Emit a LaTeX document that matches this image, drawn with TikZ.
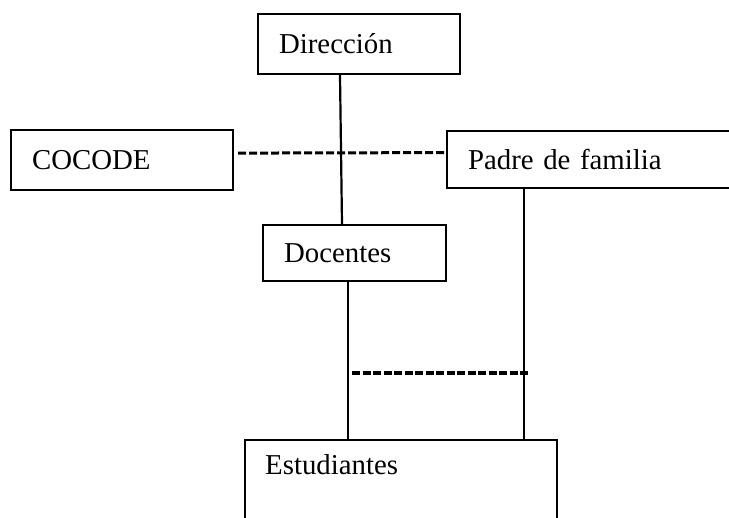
\documentclass[tikz,border=0pt]{standalone}
\usepackage{fontspec}
\setmainfont{Liberation Serif}
\begin{document}
\begin{tikzpicture}[x=1pt,y=-1pt,
  box/.style={draw=black, line width=2.2pt, fill=white, anchor=north west,
    inner xsep=21pt, inner ysep=0pt, align=left,
    font=\fontsize{28.8}{34}\selectfont, text height=19.5pt, text depth=0pt},
  conn/.style={draw=black, line width=2.2pt},
  dashone/.style={draw=black, line width=3pt, dash pattern=on 8pt off 3pt},
  dashtwo/.style={draw=black, line width=3.8pt, dash pattern=on 8pt off 2.5pt},
  lbl/.style={font=\fontsize{28.8}{34}\selectfont, inner sep=0pt, anchor=base west}]
\clip (0,0) rectangle (729,518);
\fill[white] (0,0) rectangle (729,518);
\node[box, minimum width=202pt, minimum height=60pt, text width=160pt] (dir) at (257,13) {Dirección};
\node[box, minimum width=222pt, minimum height=60pt, text width=180pt] (coc) at (10,129) {COCODE};
\node[box, minimum width=320pt, minimum height=57pt, text width=278pt] (pad) at (446,130) {Padre de familia};
\node[box, minimum width=183pt, minimum height=56pt, text width=141pt] (doc) at (262,224) {Docentes};
\node[box, minimum width=312pt, minimum height=140pt, text width=270pt, text height=0pt] (est) at (244,439) {};
\node[lbl] (estl) at ([shift={(21pt,-36pt)}]est.north west) {Estudiantes};
\draw[conn] ([xshift=83pt]dir.south west) -- ([xshift=80pt]doc.north west);
\draw[dashone] ([shift={(4pt,7pt)}]coc.east) -- ([yshift=7pt]pad.west);
\draw[conn] ([xshift=86pt]doc.south west) -- ([xshift=104pt]est.north west);
\draw[conn] ([xshift=78pt]pad.south west) -- ([xshift=280pt]est.north west);
\coordinate (m1) at (352,373);
\coordinate (m2) at (530,373);
\draw[dashtwo] (m1) -- (m2);
\end{tikzpicture}
\end{document}
